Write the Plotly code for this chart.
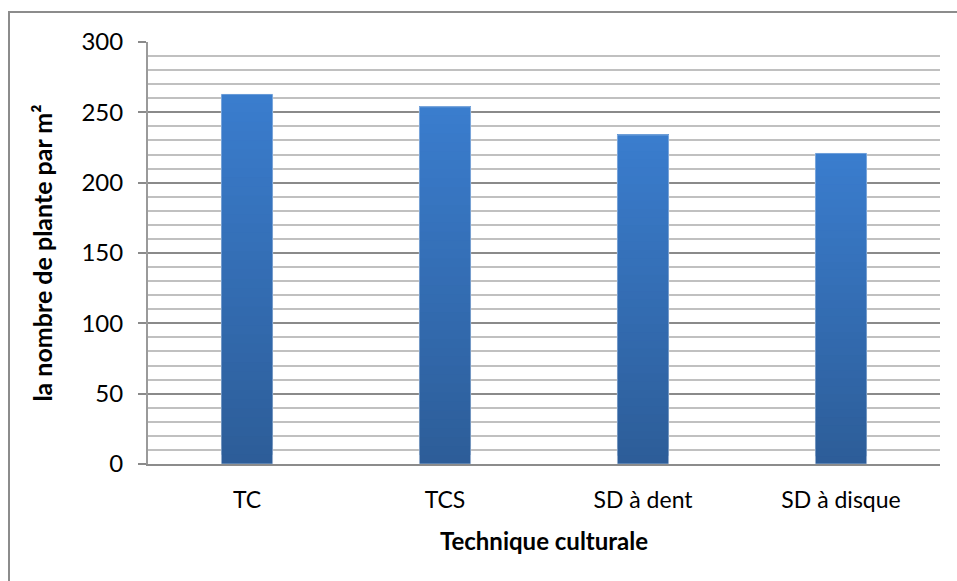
import plotly.graph_objects as go

# Plant density per tillage technique
categories = ["TC", "TCS", "SD à dent", "SD à disque"]
plants_per_m2 = [263, 254, 234, 221]

# vertical colour gradient of each bar, drawn as overlapping stacked slices
n_slices = 40
top_rgb = (58, 125, 206)
bottom_rgb = (45, 93, 152)


def mix(t):
    r = [round(b + (a - b) * t) for a, b in zip(top_rgb, bottom_rgb)]
    return f"rgb({r[0]},{r[1]},{r[2]})"


fig = go.Figure()
for i in range(n_slices):
    t = (i + 0.5) / n_slices
    # each slice runs from its start to the bar top; later slices cover the upper part
    fig.add_trace(go.Bar(
        x=categories,
        y=[v * (n_slices - i) / n_slices for v in plants_per_m2],
        base=[v * i / n_slices for v in plants_per_m2],
        marker=dict(color=mix(t), line=dict(width=0)),
        width=0.26,
        showlegend=False,
        hoverinfo="skip",
    ))

# one transparent trace holding the full values for hover
fig.add_trace(go.Bar(
    x=categories, y=plants_per_m2, width=0.26,
    marker=dict(color="rgba(0,0,0,0)"), showlegend=False,
    hovertemplate="%{x}: %{y}<extra></extra>",
))

fig.update_layout(
    width=957, height=581,
    margin=dict(l=148, r=17, t=42, b=117),
    paper_bgcolor="white", plot_bgcolor="white",
    barmode="overlay",
    font=dict(family="Lato, Open Sans, sans-serif", color="black"),
    shapes=[dict(type="rect", xref="paper", yref="paper",
                 x0=-0.1755, x1=1.05, y0=-0.35, y1=1.071,
                 line=dict(color="#8c8c8c", width=2), layer="below")],
)

fig.update_xaxes(
    showgrid=False, showline=True, linecolor="#8c8c8c", linewidth=2,
    ticks="", tickfont=dict(size=23), ticklabelstandoff=14,
    title=dict(text="<b>Technique culturale</b>", font=dict(size=24), standoff=22),
)

fig.update_yaxes(
    range=[0, 300], dtick=50, showline=True, linecolor="#9a9a9a", linewidth=2,
    showgrid=True, gridcolor="#8a8a8a", gridwidth=2,
    minor=dict(dtick=10, showgrid=True, gridcolor="#c0c0c0", gridwidth=2),
    ticks="outside", ticklen=8, tickcolor="#8a8a8a", tickwidth=2,
    tickfont=dict(size=24), ticklabelstandoff=10, zeroline=False,
    title=dict(text="<b>la nombre de plante par m²</b>", font=dict(size=25), standoff=22),
)

fig.write_html("out.html")
